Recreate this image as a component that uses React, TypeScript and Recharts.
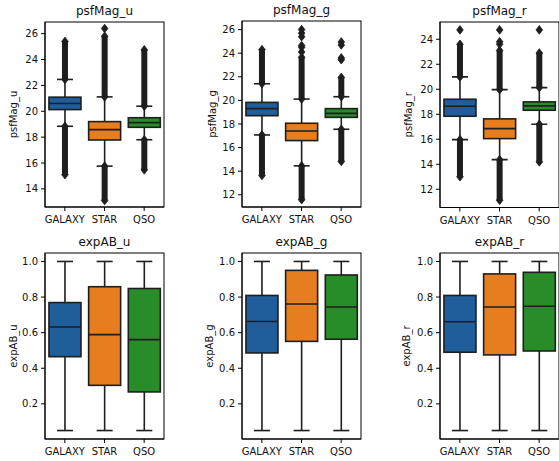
import React from 'react';
import { ComposedChart, Bar, XAxis, YAxis } from 'recharts';

const categories = ['GALAXY', 'STAR', 'QSO'];
const boxColors = ['#1f5e9b', '#e67d1e', '#288c28'];

// psfMag_u
const psfU_whiskerLow = [18.84, 15.76, 17.8];
const psfU_q1 = [20.13, 17.78, 18.76];
const psfU_median = [20.6, 18.58, 19.12];
const psfU_q3 = [21.09, 19.2, 19.5];
const psfU_whiskerHigh = [22.46, 21.11, 20.39];
const psfU_lowFliers = [[15.1, 18.84], [13.1, 15.76], [15.47, 17.8]];
const psfU_highFliers = [[22.46, 25.4], [21.11, 25.8], [20.39, 24.75]];
const psfU_isolated = [[], [26.4], []];
const psfU_ticks = [14, 16, 18, 20, 22, 24, 26];
const psfU_domain: [number, number] = [12.6, 26.9];

// psfMag_g
const psfG_whiskerLow = [17.07, 14.45, 17.55];
const psfG_q1 = [18.7, 16.59, 18.56];
const psfG_median = [19.3, 17.41, 18.9];
const psfG_q3 = [19.83, 18.06, 19.3];
const psfG_whiskerHigh = [21.41, 20.11, 20.31];
const psfG_lowFliers = [[13.63, 17.07], [11.58, 14.45], [14.82, 17.55]];
const psfG_highFliers = [[21.41, 24.3], [20.11, 23.65], [20.31, 21.95]];
const psfG_isolated = [[], [24.1, 24.5, 24.65, 25.4, 25.7, 26.0], [23.45, 23.6, 24.7, 24.95]];
const psfG_ticks = [12, 14, 16, 18, 20, 22, 24, 26];
const psfG_domain: [number, number] = [10.96, 26.73];

// psfMag_r
const psfR_whiskerLow = [15.97, 14.37, 17.2];
const psfR_q1 = [17.84, 16.05, 18.32];
const psfR_median = [18.64, 16.85, 18.67];
const psfR_q3 = [19.2, 17.63, 18.99];
const psfR_whiskerHigh = [20.99, 19.97, 20.13];
const psfR_lowFliers = [[13.0, 15.97], [11.12, 14.37], [14.19, 17.2]];
const psfR_highFliers = [[20.99, 23.6], [19.97, 23.1], [20.13, 22.9]];
const psfR_isolated = [[24.75], [23.6, 23.8, 24.75], [24.75]];
const psfR_ticks = [12, 14, 16, 18, 20, 22, 24];
const psfR_domain: [number, number] = [10.54, 25.38];

// expAB_u
const abU_whiskerLow = [0.05, 0.05, 0.05];
const abU_q1 = [0.465, 0.304, 0.267];
const abU_median = [0.632, 0.589, 0.561];
const abU_q3 = [0.769, 0.858, 0.848];
const abU_whiskerHigh = [1.0, 1.0, 1.0];

// expAB_g
const abG_whiskerLow = [0.05, 0.05, 0.05];
const abG_q1 = [0.486, 0.551, 0.563];
const abG_median = [0.663, 0.761, 0.744];
const abG_q3 = [0.809, 0.95, 0.924];
const abG_whiskerHigh = [1.0, 1.0, 1.0];

// expAB_r
const abR_whiskerLow = [0.05, 0.05, 0.05];
const abR_q1 = [0.49, 0.475, 0.497];
const abR_median = [0.661, 0.744, 0.748];
const abR_q3 = [0.809, 0.93, 0.939];
const abR_whiskerHigh = [1.0, 1.0, 1.0];

const ab_ticks = [0.2, 0.4, 0.6, 0.8, 1.0];
const ab_domain: [number, number] = [0.0025, 1.0475];

const none3: number[][] = [[], [], []];

const FONT = 'DejaVu Sans, Verdana, sans-serif';
const LINE = '#1e1e1e';

type Panel = {
  title: string;
  whiskerLow: number[];
  q1: number[];
  median: number[];
  q3: number[];
  whiskerHigh: number[];
  lowFliers: number[][];
  highFliers: number[][];
  isolated: number[][];
  ticks: number[];
  domain: [number, number];
  decimals: number;
  left: number;
  top: number;
  plotH: number;
  labelOffset: number;
};

const PLOT_W = 119;

const panels: Panel[] = [
  { title: 'psfMag_u', whiskerLow: psfU_whiskerLow, q1: psfU_q1, median: psfU_median, q3: psfU_q3, whiskerHigh: psfU_whiskerHigh, lowFliers: psfU_lowFliers, highFliers: psfU_highFliers, isolated: psfU_isolated, ticks: psfU_ticks, domain: psfU_domain, decimals: 0, left: 45, top: 22, plotH: 185, labelOffset: 31.5 },
  { title: 'psfMag_g', whiskerLow: psfG_whiskerLow, q1: psfG_q1, median: psfG_median, q3: psfG_q3, whiskerHigh: psfG_whiskerHigh, lowFliers: psfG_lowFliers, highFliers: psfG_highFliers, isolated: psfG_isolated, ticks: psfG_ticks, domain: psfG_domain, decimals: 0, left: 242, top: 21, plotH: 186, labelOffset: 30 },
  { title: 'psfMag_r', whiskerLow: psfR_whiskerLow, q1: psfR_q1, median: psfR_median, q3: psfR_q3, whiskerHigh: psfR_whiskerHigh, lowFliers: psfR_lowFliers, highFliers: psfR_highFliers, isolated: psfR_isolated, ticks: psfR_ticks, domain: psfR_domain, decimals: 0, left: 440, top: 21.5, plotH: 185.5, labelOffset: 32 },
  { title: 'expAB_u', whiskerLow: abU_whiskerLow, q1: abU_q1, median: abU_median, q3: abU_q3, whiskerHigh: abU_whiskerHigh, lowFliers: none3, highFliers: none3, isolated: none3, ticks: ab_ticks, domain: ab_domain, decimals: 1, left: 45, top: 253, plotH: 186, labelOffset: 31.5 },
  { title: 'expAB_g', whiskerLow: abG_whiskerLow, q1: abG_q1, median: abG_median, q3: abG_q3, whiskerHigh: abG_whiskerHigh, lowFliers: none3, highFliers: none3, isolated: none3, ticks: ab_ticks, domain: ab_domain, decimals: 1, left: 242, top: 253, plotH: 186, labelOffset: 33 },
  { title: 'expAB_r', whiskerLow: abR_whiskerLow, q1: abR_q1, median: abR_median, q3: abR_q3, whiskerHigh: abR_whiskerHigh, lowFliers: none3, highFliers: none3, isolated: none3, ticks: ab_ticks, domain: ab_domain, decimals: 1, left: 440, top: 253, plotH: 186, labelOffset: 34 },
];

function buildRows(p: Panel) {
  return categories.map((cat, i) => {
    const all = [p.whiskerLow[i], p.whiskerHigh[i], ...p.lowFliers[i], ...p.highFliers[i], ...p.isolated[i]];
    return {
      cat,
      span: [Math.min(...all), Math.max(...all)],
      whiskerLow: p.whiskerLow[i],
      q1: p.q1[i],
      median: p.median[i],
      q3: p.q3[i],
      whiskerHigh: p.whiskerHigh[i],
      lowFliers: p.lowFliers[i],
      highFliers: p.highFliers[i],
      isolated: p.isolated[i],
      color: boxColors[i],
    };
  });
}

const BoxShape = (props: any) => {
  const { x, y, width, height, payload } = props;
  if (x == null || y == null || !payload) return null;
  const top = Math.min(y, y + height);
  const bottom = Math.max(y, y + height);
  const [lo, hi] = payload.span;
  const py = (v: number) => bottom - ((bottom - top) * (v - lo)) / (hi - lo);
  const cx = x + width / 2;
  const capHalf = width / 4;
  const dw = 3.3;
  const dh = 4.3;
  const diamond = (v: number, k: string) => {
    const yy = py(v);
    return (
      <path key={k} d={`M${cx},${yy - dh} L${cx + dw},${yy} L${cx},${yy + dh} L${cx - dw},${yy} Z`} fill={LINE} stroke={LINE} strokeWidth={0.8} />
    );
  };
  const band = (b: number[], k: string) => {
    if (!b || b.length < 2) return null;
    const y1 = py(b[1]);
    const y2 = py(b[0]);
    return (
      <g key={k}>
        <rect x={cx - 3} y={y1} width={6} height={y2 - y1} fill={LINE} />
        {diamond(b[0], k + 'a')}
        {diamond(b[1], k + 'b')}
      </g>
    );
  };
  const yq1 = py(payload.q1);
  const yq3 = py(payload.q3);
  const ymed = py(payload.median);
  const ywl = py(payload.whiskerLow);
  const ywh = py(payload.whiskerHigh);
  return (
    <g>
      {band(payload.lowFliers, 'lo')}
      {band(payload.highFliers, 'hi')}
      {payload.isolated.map((v: number, j: number) => diamond(v, 'iso' + j))}
      <line x1={cx} x2={cx} y1={ywh} y2={yq3} stroke={LINE} strokeWidth={1.6} />
      <line x1={cx} x2={cx} y1={yq1} y2={ywl} stroke={LINE} strokeWidth={1.6} />
      <line x1={cx - capHalf} x2={cx + capHalf} y1={ywh} y2={ywh} stroke={LINE} strokeWidth={1.6} />
      <line x1={cx - capHalf} x2={cx + capHalf} y1={ywl} y2={ywl} stroke={LINE} strokeWidth={1.6} />
      <rect x={x} y={yq3} width={width} height={yq1 - yq3} fill={payload.color} stroke={LINE} strokeWidth={1.6} />
      <line x1={x} x2={x + width} y1={ymed} y2={ymed} stroke={LINE} strokeWidth={1.6} />
    </g>
  );
};

const YLABEL_AXIS_W = 45;
const MARGIN_TOP = 24;
const XAXIS_H = 25;

function PanelChart({ p }: { p: Panel }) {
  const rows = buildRows(p);
  const W = YLABEL_AXIS_W + PLOT_W + 2;
  const H = MARGIN_TOP + p.plotH + XAXIS_H;
  const labelX = YLABEL_AXIS_W - p.labelOffset;
  return (
    <div style={{ position: 'absolute', left: p.left - YLABEL_AXIS_W, top: p.top - MARGIN_TOP, width: W, height: H }}>
      <ComposedChart width={W} height={H} data={rows} margin={{ top: MARGIN_TOP, right: 2, bottom: 0, left: 0 }} barCategoryGap="10%">
        <XAxis
          dataKey="cat"
          type="category"
          height={XAXIS_H}
          interval={0}
          tickSize={4}
          tickMargin={5}
          axisLine={{ stroke: '#000' }}
          tickLine={{ stroke: '#000' }}
          tick={{ fill: '#111', fontSize: 10, fontFamily: FONT }}
        />
        <YAxis
          type="number"
          domain={p.domain}
          ticks={p.ticks}
          allowDataOverflow
          width={YLABEL_AXIS_W}
          tickSize={4}
          tickMargin={3}
          tickFormatter={(v: number) => v.toFixed(p.decimals)}
          axisLine={{ stroke: '#000' }}
          tickLine={{ stroke: '#000' }}
          tick={{ fill: '#111', fontSize: 10, fontFamily: FONT }}
          label={{
            content: (lp: any) => {
              const vb = lp.viewBox || {};
              const cy = (vb.y ?? MARGIN_TOP) + (vb.height ?? p.plotH) / 2;
              return (
                <text x={labelX} y={cy} transform={`rotate(-90, ${labelX}, ${cy})`} textAnchor="middle" dominantBaseline="central" fontSize={10} fontFamily={FONT} fill="#111">
                  {p.title}
                </text>
              );
            },
          }}
        />
        <Bar dataKey="span" isAnimationActive={false} shape={<BoxShape />} />
      </ComposedChart>
      <svg style={{ position: 'absolute', left: 0, top: 0, pointerEvents: 'none' }} width={W} height={H}>
        <text x={YLABEL_AXIS_W + PLOT_W / 2} y={MARGIN_TOP - 7} textAnchor="middle" fontSize={12} fontFamily={FONT} fill="#111">
          {p.title}
        </text>
        <rect x={YLABEL_AXIS_W} y={MARGIN_TOP} width={PLOT_W} height={p.plotH} fill="none" stroke="#000" strokeWidth={1} />
      </svg>
    </div>
  );
}

export default function App() {
  return (
    <div style={{ position: 'absolute', left: 0, top: 0, width: 559, height: 461, overflow: 'hidden', background: '#fff' }}>
      {panels.map((p) => (
        <PanelChart key={p.title} p={p} />
      ))}
    </div>
  );
}
